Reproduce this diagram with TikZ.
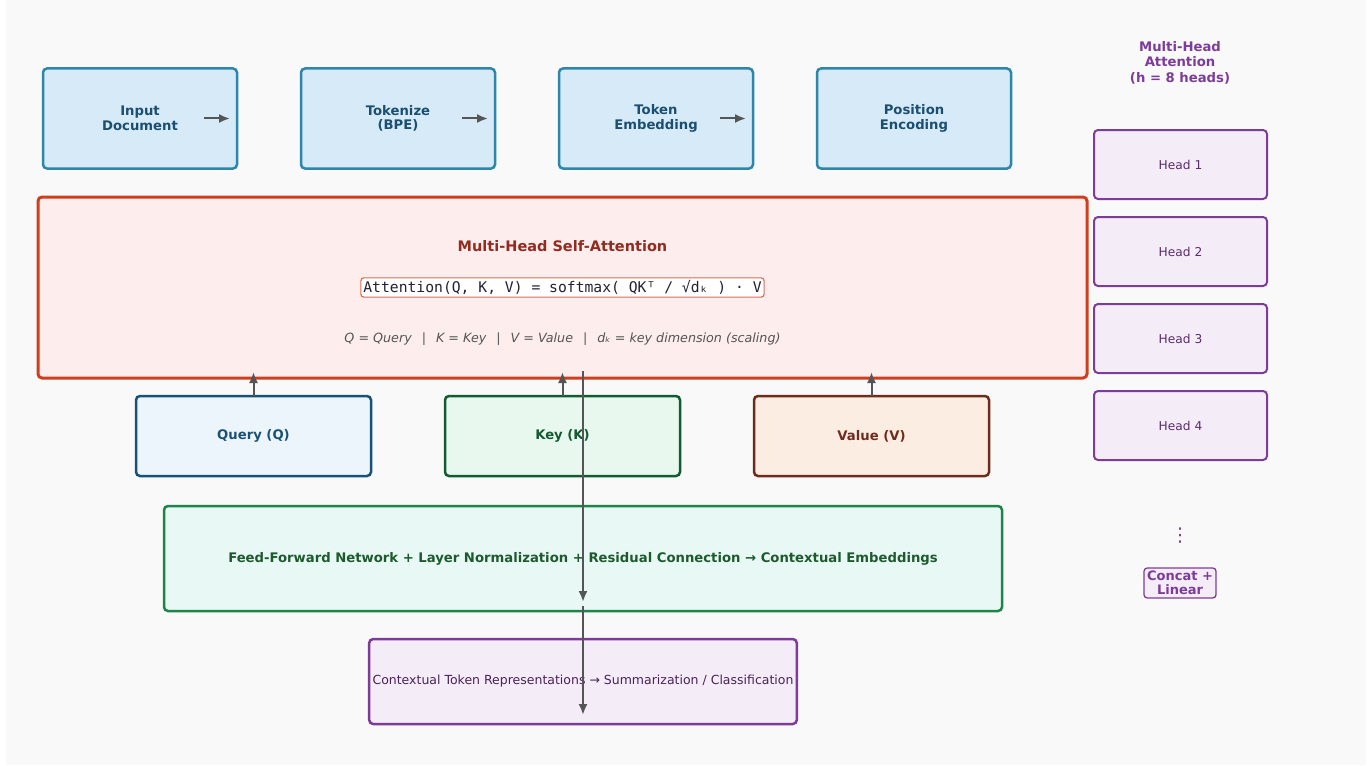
\documentclass[tikz,border=0pt]{standalone}
\usepackage{fontspec}
\setmainfont{DejaVu Sans}
\setmonofont{DejaVu Sans Mono}
\usepackage{tikz}
\usetikzlibrary{arrows.meta,positioning,calc}

\definecolor{pagebg}{HTML}{F9F9F9}
\definecolor{stagefill}{HTML}{D6EAF8}
\definecolor{stagedraw}{HTML}{2E86AB}
\definecolor{stagetext}{HTML}{1B4F72}
\definecolor{attfill}{HTML}{FDEDEC}
\definecolor{attdraw}{HTML}{CF3F1E}
\definecolor{atttext}{HTML}{922B21}
\definecolor{eqdraw}{HTML}{DE6E55}
\definecolor{eqtext}{HTML}{222233}
\definecolor{notetext}{HTML}{555555}
\definecolor{qfill}{HTML}{EBF5FB}
\definecolor{qdraw}{HTML}{1A5276}
\definecolor{kfill}{HTML}{E9F8EF}
\definecolor{kdraw}{HTML}{145A32}
\definecolor{vfill}{HTML}{FCEDE2}
\definecolor{vdraw}{HTML}{6E2C1F}
\definecolor{ffnfill}{HTML}{E8F8F5}
\definecolor{ffndraw}{HTML}{1E8449}
\definecolor{ffntext}{HTML}{1D5A2E}
\definecolor{headfill}{HTML}{F4ECF7}
\definecolor{headdraw}{HTML}{7D3C98}
\definecolor{headtext}{HTML}{5B2C6F}
\definecolor{outtext}{HTML}{4A235A}
\definecolor{flowgray}{HTML}{555555}

\begin{document}
\begin{tikzpicture}[x=1pt,y=-1pt,font=\fontsize{12.5}{15}\selectfont]
  \tikzstyle{box}=[rectangle,rounded corners=4pt,align=center,line width=2.5pt,outer sep=0pt]
  \tikzstyle{stage}=[box,draw=stagedraw,fill=stagefill,text=stagetext,
                     minimum width=194pt,minimum height=100pt,font=\fontsize{13.2}{14.5}\selectfont\bfseries]
  \tikzstyle{qkv}=[box,minimum width=235pt,minimum height=80pt,font=\fontsize{13.2}{15}\selectfont\bfseries]
  \tikzstyle{head}=[box,line width=2pt,draw=headdraw,fill=headfill,text=headtext,
                    minimum width=173pt,minimum height=69pt,font=\fontsize{12.2}{14}\selectfont]
  \tikzstyle{flow}=[-{Latex[length=11pt,width=9pt]},draw=flowgray,line width=2pt]

  \fill[pagebg] (6,0) rectangle (1366,765);
  \useasboundingbox (0,0) rectangle (1372,765);

  % input pipeline
  \node[stage] (doc) at (140,118.5)       {Input\\Document};
  \node[stage] (tok) [right=64pt of doc]  {Tokenize\\(BPE)};
  \node[stage] (emb) [right=64pt of tok]  {Token\\Embedding};
  \node[stage] (pos) [right=64pt of emb]  {Position\\Encoding};

  \foreach \s in {doc,tok,emb}
    \draw[flow] ($(\s.east)+(-33,0)$) -- ($(\s.east)+(-7,0)$);

  % attention block
  \node[box,line width=3pt,draw=attdraw,fill=attfill,minimum width=1049pt,minimum height=181pt]
        (att) at (562.5,287.5) {};
  \node[text=atttext,font=\fontsize{14.5}{17}\selectfont\bfseries] (atttitle)
        at ($(att.center)+(0,-41.5)$) {Multi-Head Self-Attention};
  \node[draw=eqdraw,fill=white,rounded corners=3pt,line width=1.2pt,inner sep=2.5pt,
        text=eqtext,font=\fontsize{14.7}{17}\selectfont\ttfamily] (eq)
        at (att.center) {Attention(Q, K, V) = softmax( QKᵀ / √dₖ ) · V};
  \node[text=notetext,font=\fontsize{12.7}{14}\selectfont\itshape] (note)
        at ($(att.center)+(0,51.5)$)
        {Q = Query\hspace{10pt}|\hspace{10pt}K = Key\hspace{10pt}|\hspace{10pt}V = Value\hspace{10pt}|\hspace{10pt}dₖ = key dimension (scaling)};

  % projections
  \node[qkv,draw=qdraw,fill=qfill,text=qdraw] (q) at (253.5,436) {Query (Q)};
  \node[qkv,draw=kdraw,fill=kfill,text=kdraw] (k) at (562.5,436) {Key (K)};
  \node[qkv,draw=vdraw,fill=vfill,text=vdraw] (v) at (871.5,436) {Value (V)};

  \foreach \p in {q,k,v}
    \draw[flow] (\p.north) -- ([yshift=6pt]\p.north |- att.south);

  % feed-forward and output
  \node[box,draw=ffndraw,fill=ffnfill,text=ffntext,minimum width=838pt,minimum height=105pt,
        font=\fontsize{13.2}{15}\selectfont\bfseries] (ffn) at (583,558.5)
        {Feed-Forward Network + Layer Normalization + Residual Connection → Contextual Embeddings};
  \node[box,draw=headdraw,fill=headfill,text=outtext,minimum width=426pt,minimum height=85pt]
        (out) at (583,681.5)
        {Contextual Token Representations → Summarization / Classification};

  \draw[flow,line width=2.5pt] ([yshift=7pt]ffn.north |- att.south) -- ([yshift=9pt]ffn.south);
  \draw[flow,line width=2.5pt] ([yshift=5pt]ffn.south) -- ([yshift=9pt]out.south);

  % heads column
  \node[text=headdraw,align=center,font=\fontsize{13.2}{15.5}\selectfont\bfseries] (heads)
        at (1180,62.5) {Multi-Head\\Attention\\(h = 8 heads)};
  \node[head] (h1) at (1180.5,164.5) {Head 1};
  \node[head] (h2) [below=18pt of h1] {Head 2};
  \node[head] (h3) [below=18pt of h2] {Head 3};
  \node[head] (h4) [below=18pt of h3] {Head 4};
  \node[text=headdraw,font=\fontsize{19}{20}\selectfont] (dots) at (1180,536) {⋮};
  \node[draw=headdraw,fill=headfill,text=headdraw,rounded corners=3pt,line width=1.3pt,
        align=center,inner sep=3pt,font=\fontsize{13}{14}\selectfont\bfseries]
        (concat) at (1180,583) {Concat +\\Linear};
\end{tikzpicture}
\end{document}
